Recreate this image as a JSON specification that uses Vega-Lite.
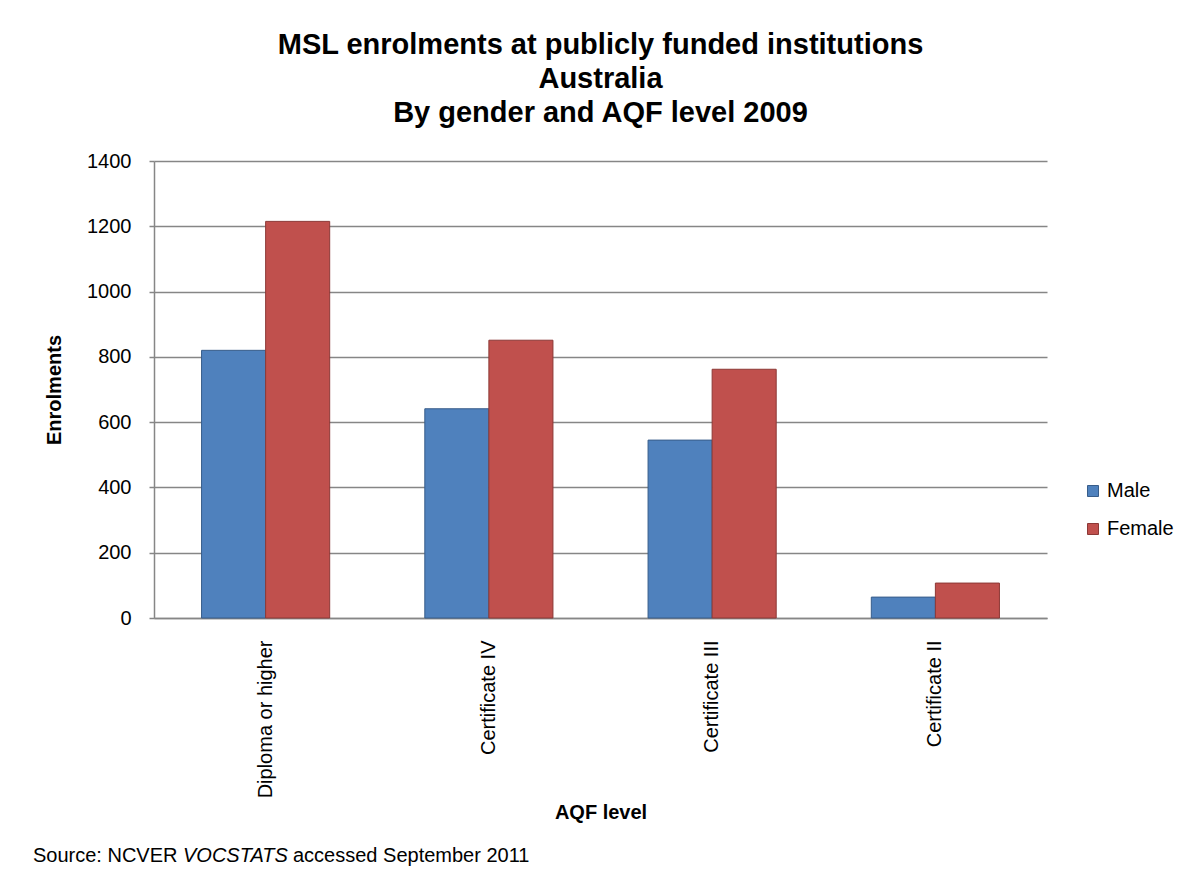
{
  "$schema": "https://vega.github.io/schema/vega-lite/v6.json",
  "background": "white",
  "padding": {"left": 33, "top": 31, "right": 5, "bottom": 5},
  "config": {
    "view": {"stroke": null},
    "font": "Liberation Sans"
  },
  "bounds": "flush",
  "spacing": 250,
  "vconcat": [
    {
      "width": 893,
      "height": 457,
      "title": {
        "text": ["MSL enrolments at publicly funded institutions", "Australia", "By gender and AQF level 2009"],
        "font": "Liberation Sans",
        "fontSize": 29,
        "fontWeight": "bold",
        "color": "black",
        "lineHeight": 34,
        "anchor": "middle",
        "offset": 23
      },
      "data": {
        "values": [
          {"level": "Diploma or higher", "gender": "Male", "enrolments": 820},
          {"level": "Diploma or higher", "gender": "Female", "enrolments": 1215},
          {"level": "Certificate IV", "gender": "Male", "enrolments": 641},
          {"level": "Certificate IV", "gender": "Female", "enrolments": 851},
          {"level": "Certificate III", "gender": "Male", "enrolments": 545},
          {"level": "Certificate III", "gender": "Female", "enrolments": 762},
          {"level": "Certificate II", "gender": "Male", "enrolments": 64},
          {"level": "Certificate II", "gender": "Female", "enrolments": 107}
        ]
      },
      "mark": {"type": "bar", "strokeWidth": 1},
      "encoding": {
        "x": {
          "field": "level",
          "type": "nominal",
          "sort": ["Diploma or higher", "Certificate IV", "Certificate III", "Certificate II"],
          "scale": {"paddingInner": 0.426, "paddingOuter": 0.213},
          "axis": {
            "title": "AQF level",
            "titleFont": "Liberation Sans",
            "titleFontSize": 20,
            "titleFontWeight": "bold",
            "titleColor": "black",
            "titlePadding": 5,
            "labelAngle": -90,
            "labelFont": "Liberation Sans",
            "labelFontSize": 20,
            "labelColor": "black",
            "labelPadding": 22,
            "ticks": false,
            "domainColor": "#868686",
            "domainWidth": 1.5
          }
        },
        "xOffset": {"field": "gender", "type": "nominal", "sort": ["Male", "Female"]},
        "y": {
          "field": "enrolments",
          "type": "quantitative",
          "scale": {"domain": [0, 1400], "nice": false},
          "axis": {
            "values": [0, 200, 400, 600, 800, 1000, 1200, 1400],
            "format": "d",
            "title": "Enrolments",
            "titleFont": "Liberation Sans",
            "titleFontSize": 20,
            "titleFontWeight": "bold",
            "titleColor": "black",
            "titlePadding": 22,
            "labelFont": "Liberation Sans",
            "labelFontSize": 20,
            "labelColor": "black",
            "labelPadding": 18,
            "tickSize": 5,
            "tickColor": "#868686",
            "tickWidth": 1.5,
            "domainColor": "#868686",
            "domainWidth": 1.5,
            "grid": true,
            "gridColor": "#868686",
            "gridWidth": 1.5
          }
        },
        "color": {
          "field": "gender",
          "type": "nominal",
          "scale": {"domain": ["Male", "Female"], "range": ["#4F81BD", "#C0504D"]},
          "legend": {
            "title": null,
            "orient": "none",
            "legendX": 929,
            "legendY": 320,
            "symbolType": "square",
            "symbolSize": 121,
            "symbolStrokeWidth": 1,
            "labelFont": "Liberation Sans",
            "labelFontSize": 20,
            "labelColor": "black",
            "labelOffset": 4,
            "rowPadding": 18
          }
        },
        "stroke": {
          "field": "gender",
          "type": "nominal",
          "scale": {"domain": ["Male", "Female"], "range": ["#385D8A", "#8C3836"]},
          "legend": null
        }
      }
    },
    {
      "hconcat": [
        {
          "width": 150,
          "height": 1,
          "data": {"values": [{"k": 1}]},
          "mark": {"type": "point", "opacity": 0},
          "encoding": {},
          "title": {"text": "Source: NCVER", "anchor": "start", "dx": -121, "offset": 0, "font": "Liberation Sans", "fontSize": 20, "fontWeight": "normal", "fontStyle": "normal", "color": "black"}
        },
        {
          "width": 108,
          "height": 1,
          "data": {"values": [{"k": 1}]},
          "mark": {"type": "point", "opacity": 0},
          "encoding": {},
          "title": {"text": "VOCSTATS", "anchor": "start", "dx": -121, "offset": 0, "font": "Liberation Sans", "fontSize": 20, "fontWeight": "normal", "fontStyle": "italic", "color": "black"}
        },
        {
          "width": 240,
          "height": 1,
          "data": {"values": [{"k": 1}]},
          "mark": {"type": "point", "opacity": 0},
          "encoding": {},
          "title": {"text": "accessed September 2011", "anchor": "start", "dx": -119, "offset": 0, "font": "Liberation Sans", "fontSize": 20, "fontWeight": "normal", "fontStyle": "normal", "color": "black"}
        }
      ],
      "spacing": 0,
      "bounds": "flush"
    }
  ]
}
